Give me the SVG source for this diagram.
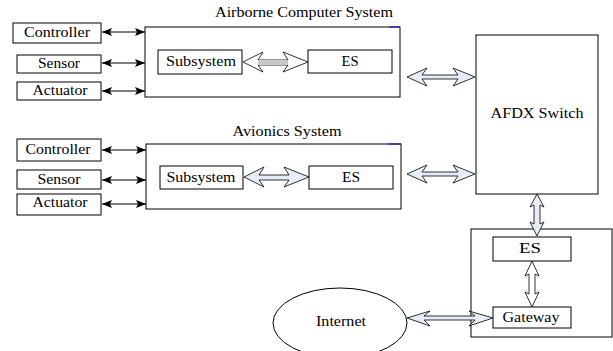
<svg xmlns="http://www.w3.org/2000/svg" width="613" height="351" viewBox="0 0 613 351">
<style>
.box{fill:#fff;stroke:#000;stroke-width:1}
.t{font-family:"Liberation Serif","Times New Roman",serif;font-size:14px;fill:#000;text-anchor:middle}
.ln{stroke:#000;stroke-width:1;fill:none;marker-start:url(#ah);marker-end:url(#ah)}
.big{fill:#e6edf7;stroke:#000;stroke-width:0.8}
.wh{fill:#fff;stroke:#000;stroke-width:0.8}
</style>
<defs>
<marker id="ah" viewBox="0 0 10 8" refX="10" refY="4" markerWidth="10" markerHeight="8" markerUnits="userSpaceOnUse" orient="auto-start-reverse">
<path d="M0,0 L10,4 L0,8 L2,4 Z" fill="#000"/>
</marker>
</defs>
<rect width="613" height="351" fill="#fff"/>

<g id="airborne">
<rect class="box" x="145" y="27" width="255" height="70"/>
<line x1="389" y1="27" x2="400" y2="27" stroke="#0000cc" stroke-width="1"/>
<text class="t" x="304" y="17" textLength="178" lengthAdjust="spacingAndGlyphs">Airborne Computer System</text>
</g>
<g id="a-controller"><rect class="box" x="13" y="23" width="88" height="20"/><text class="t" x="57" y="37" textLength="66" lengthAdjust="spacingAndGlyphs">Controller</text></g>
<g id="a-sensor"><rect class="box" x="17" y="55" width="84" height="18"/><text class="t" x="59" y="68" textLength="42" lengthAdjust="spacingAndGlyphs">Sensor</text></g>
<g id="a-actuator"><rect class="box" x="17" y="82" width="84" height="18"/><text class="t" x="60" y="95" textLength="55" lengthAdjust="spacingAndGlyphs">Actuator</text></g>
<g id="a-subsystem"><rect class="box" x="158" y="50" width="84" height="24"/><text class="t" x="201" y="66" textLength="70" lengthAdjust="spacingAndGlyphs">Subsystem</text></g>
<g id="a-es"><rect class="box" x="308" y="50" width="84" height="23"/><text class="t" x="350" y="66" textLength="17" lengthAdjust="spacingAndGlyphs">ES</text></g>

<g id="avionics">
<rect class="box" x="146" y="144" width="255" height="65"/>
<line x1="388" y1="144" x2="401" y2="144" stroke="#0000cc" stroke-width="1"/>
<text class="t" x="287" y="136" textLength="109" lengthAdjust="spacingAndGlyphs">Avionics System</text>
</g>
<g id="b-controller"><rect class="box" x="17" y="139" width="84" height="22"/><text class="t" x="58" y="154" textLength="65" lengthAdjust="spacingAndGlyphs">Controller</text></g>
<g id="b-sensor"><rect class="box" x="17" y="170" width="84" height="19"/><text class="t" x="59" y="184" textLength="43" lengthAdjust="spacingAndGlyphs">Sensor</text></g>
<g id="b-actuator"><rect class="box" x="17" y="194" width="84" height="21"/><text class="t" x="60" y="207" textLength="55" lengthAdjust="spacingAndGlyphs">Actuator</text></g>
<g id="b-subsystem"><rect class="box" x="160" y="166" width="83" height="23"/><text class="t" x="201" y="182" textLength="69" lengthAdjust="spacingAndGlyphs">Subsystem</text></g>
<g id="b-es"><rect class="box" x="309" y="166" width="84" height="23"/><text class="t" x="351" y="182" textLength="18" lengthAdjust="spacingAndGlyphs">ES</text></g>

<g id="afdx"><rect class="box" x="476" y="35" width="122" height="159"/><text class="t" x="537" y="118" textLength="93" lengthAdjust="spacingAndGlyphs">AFDX Switch</text></g>

<g id="gateway-system"><rect class="box" x="471" y="229" width="141" height="108"/></g>
<g id="g-es"><rect class="box" x="493" y="237" width="78" height="24"/><text class="t" x="530" y="253" textLength="22" lengthAdjust="spacingAndGlyphs">ES</text></g>
<g id="g-gateway"><rect class="box" x="493" y="307" width="78" height="21"/><text class="t" x="531" y="322" textLength="57" lengthAdjust="spacingAndGlyphs">Gateway</text></g>

<g id="internet"><ellipse class="box" cx="340" cy="323" rx="67" ry="35"/><text class="t" x="341" y="326" textLength="50" lengthAdjust="spacingAndGlyphs">Internet</text></g>

<g id="connectors">
<line class="ln" x1="102" y1="32" x2="145" y2="32"/>
<line class="ln" x1="102" y1="63" x2="145" y2="63"/>
<line class="ln" x1="102" y1="91" x2="145" y2="91"/>
<line class="ln" x1="102" y1="150" x2="146" y2="150"/>
<line class="ln" x1="102" y1="180" x2="146" y2="180"/>
<line class="ln" x1="102" y1="204" x2="146" y2="204"/>
<!-- subsystem to ES (airborne) -->
<polygon class="wh" points="243,62 263,52 258,60 288,60 283,52 308,62 283,72 288,65 258,65 263,72"/>
<rect x="258" y="60" width="30" height="5" fill="#c8c8c8" stroke="none"/>
<!-- subsystem to ES (avionics) -->
<polygon class="big" points="244,177 264,167 259,175 289,175 284,167 309,177 284,187 289,180 259,180 264,187"/>
<!-- airborne to AFDX -->
<polygon class="big" points="407,77 427,68 422,75 458,75 453,68 475,77 453,86 458,79 422,79 427,86"/>
<!-- avionics to AFDX -->
<polygon class="big" points="407,174 427,165 422,172 458,172 453,165 475,174 453,183 458,176 422,176 427,183"/>
<!-- AFDX to ES -->
<polygon class="big" points="537,194 544,207 540,205 540,224 544,222 537,236 530,222 534,224 534,205 530,207"/>
<!-- ES to Gateway -->
<polygon class="wh" points="532,261 539,276 535,274 535,294 539,292 532,307 525,292 529,294 529,274 525,276"/>
<!-- Internet to Gateway -->
<polygon class="big" points="407,318 430,311 424,316 475,316 469,311 493,318 469,326 475,320 424,320 430,326"/>
</g>
</svg>
